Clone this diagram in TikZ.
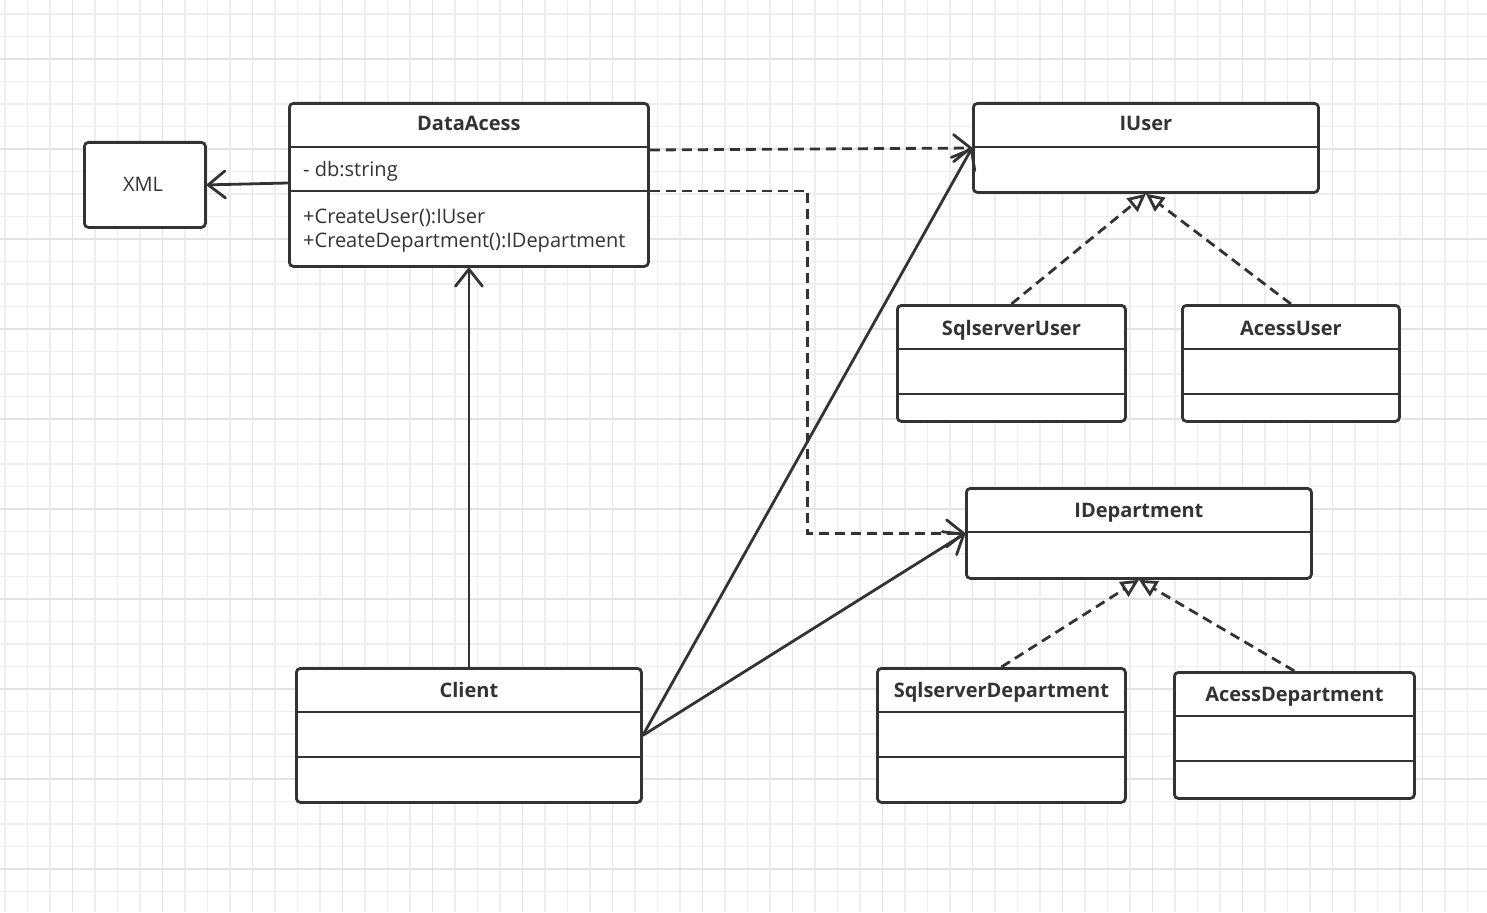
\documentclass[tikz,border=0pt]{standalone}
\usepackage{fontspec}
\setmainfont{Open Sans}
\usepackage{xcolor}
\usetikzlibrary{arrows.meta, calc, positioning}

\definecolor{ink}{HTML}{333333}
\definecolor{gridminor}{HTML}{EEEEEE}
\definecolor{gridmajor}{HTML}{E3E3E3}

\tikzset{
    cls/.style={draw=ink, line width=2.8pt, rounded corners=4pt, fill=white, inner sep=0pt, anchor=north west},
    ttl/.style={text=ink, font=\fontsize{20}{24}\selectfont\bfseries, inner sep=0pt, anchor=base},
    txt/.style={text=ink, font=\fontsize{20}{24}\selectfont, inner sep=0pt, anchor=base west},
    sep/.style={draw=ink, line width=2.8pt},
    assoc/.style={draw=ink, line width=2.8pt, -{Straight Barb[length=17pt,width=27pt,round]}},
    dep/.style={assoc, dash pattern=on 10pt off 6pt},
    real/.style={draw=ink, line width=2.8pt, dash pattern=on 10pt off 6pt, -{Triangle[length=18pt,width=17pt,fill=white]}}
}

\begin{document}
\begin{tikzpicture}[x=1pt, y=-1pt]
    \useasboundingbox (0,0) rectangle (1487,912);
    \fill[white] (0,0) rectangle (1487,912);

    % grid
    \foreach \i in {0,...,65}
        \draw[gridminor, line width=1.5pt] ({5+22.5*\i},0) -- ({5+22.5*\i},912);
    \foreach \i in {0,...,39}
        \draw[gridminor, line width=1.5pt] (0,{14+22.5*\i}) -- (1487,{14+22.5*\i});
    \foreach \i in {0,...,15}
        \draw[gridmajor, line width=1.5pt] ({72.5+90*\i},0) -- ({72.5+90*\i},912);
    \foreach \i in {0,...,9}
        \draw[gridmajor, line width=1.5pt] (0,{59+90*\i}) -- (1487,{59+90*\i});

    % classes
    \node[cls, minimum width=121pt, minimum height=85pt] (xml) at (83,141) {};
    \node[text=ink, font=\fontsize{20}{24}\selectfont, inner sep=0pt, anchor=base] (xml-t) at (143,191) {XML};

    \node[cls, minimum width=359pt, minimum height=163pt] (da) at (288,102) {};
    \node[ttl] (da-t) at ($(da.north)+(0,29)$) {DataAcess};
    \node[txt] (da-a) at ($(da.north west)+(15,75)$) {- db:string};
    \node[txt] (da-m1) at ($(da.north west)+(15,121)$) {+CreateUser():IUser};
    \node[txt] (da-m2) at ($(da.north west)+(15,145)$) {+CreateDepartment():IDepartment};
    \draw[sep] ($(da.north west)+(0,45)$) -- ($(da.north east)+(0,45)$);
    \draw[sep] ($(da.north west)+(0,89)$) -- ($(da.north east)+(0,89)$);

    \node[cls, minimum width=345pt, minimum height=89pt] (iu) at (972,102) {};
    \node[ttl] (iu-t) at ($(iu.north)+(0,29)$) {IUser};
    \draw[sep] ($(iu.north west)+(0,45)$) -- ($(iu.north east)+(0,45)$);

    \node[cls, minimum width=228pt, minimum height=116pt] (su) at (896,304) {};
    \node[ttl] (su-t) at ($(su.north)+(0,31)$) {SqlserverUser};
    \draw[sep] ($(su.north west)+(0,45)$) -- ($(su.north east)+(0,45)$);
    \draw[sep] ($(su.north west)+(0,90)$) -- ($(su.north east)+(0,90)$);

    \node[cls, minimum width=217pt, minimum height=116pt] (au) at (1181,304) {};
    \node[ttl] (au-t) at ($(au.north)+(0,31)$) {AcessUser};
    \draw[sep] ($(au.north west)+(0,45)$) -- ($(au.north east)+(0,45)$);
    \draw[sep] ($(au.north west)+(0,90)$) -- ($(au.north east)+(0,90)$);

    \node[cls, minimum width=345pt, minimum height=90pt] (id) at (965,487) {};
    \node[ttl] (id-t) at ($(id.north)+(0,30)$) {IDepartment};
    \draw[sep] ($(id.north west)+(0,45)$) -- ($(id.north east)+(0,45)$);

    \node[cls, minimum width=248pt, minimum height=134pt] (sd) at (876,667) {};
    \node[ttl] (sd-t) at ($(sd.north)+(0,30)$) {SqlserverDepartment};
    \draw[sep] ($(sd.north west)+(0,45)$) -- ($(sd.north east)+(0,45)$);
    \draw[sep] ($(sd.north west)+(0,90)$) -- ($(sd.north east)+(0,90)$);

    \node[cls, minimum width=240pt, minimum height=126pt] (ad) at (1173,671) {};
    \node[ttl] (ad-t) at ($(ad.north)+(0,30)$) {AcessDepartment};
    \draw[sep] ($(ad.north west)+(0,45)$) -- ($(ad.north east)+(0,45)$);
    \draw[sep] ($(ad.north west)+(0,90)$) -- ($(ad.north east)+(0,90)$);

    \node[cls, minimum width=345pt, minimum height=134pt] (cl) at (295,667) {};
    \node[ttl] (cl-t) at ($(cl.north)+(0,30)$) {Client};
    \draw[sep] ($(cl.north west)+(0,45)$) -- ($(cl.north east)+(0,45)$);
    \draw[sep] ($(cl.north west)+(0,90)$) -- ($(cl.north east)+(0,90)$);

    % connectors
    \draw[assoc] ($(da.north west)+(0,81)$) -- (xml.east);
    \draw[assoc] (cl.north) -- (da.south);
    \draw[assoc] (cl.east) -- ($(iu.north west)+(0,46)$);
    \draw[assoc] (cl.east) -- (id.west);
    \draw[dep] ($(da.north east)+(0,48)$) -- ($(iu.north west)+(0,46)$);
    \draw[dep] ($(da.north east)+(0,89)$) -- ++(158,0) |- (id.west);
    \draw[real] (su.north) -- (iu.south);
    \draw[real] (au.north) -- (iu.south);
    \draw[real] (sd.north) -- (id.south);
    \draw[real] (ad.north) -- (id.south);
\end{tikzpicture}
\end{document}
